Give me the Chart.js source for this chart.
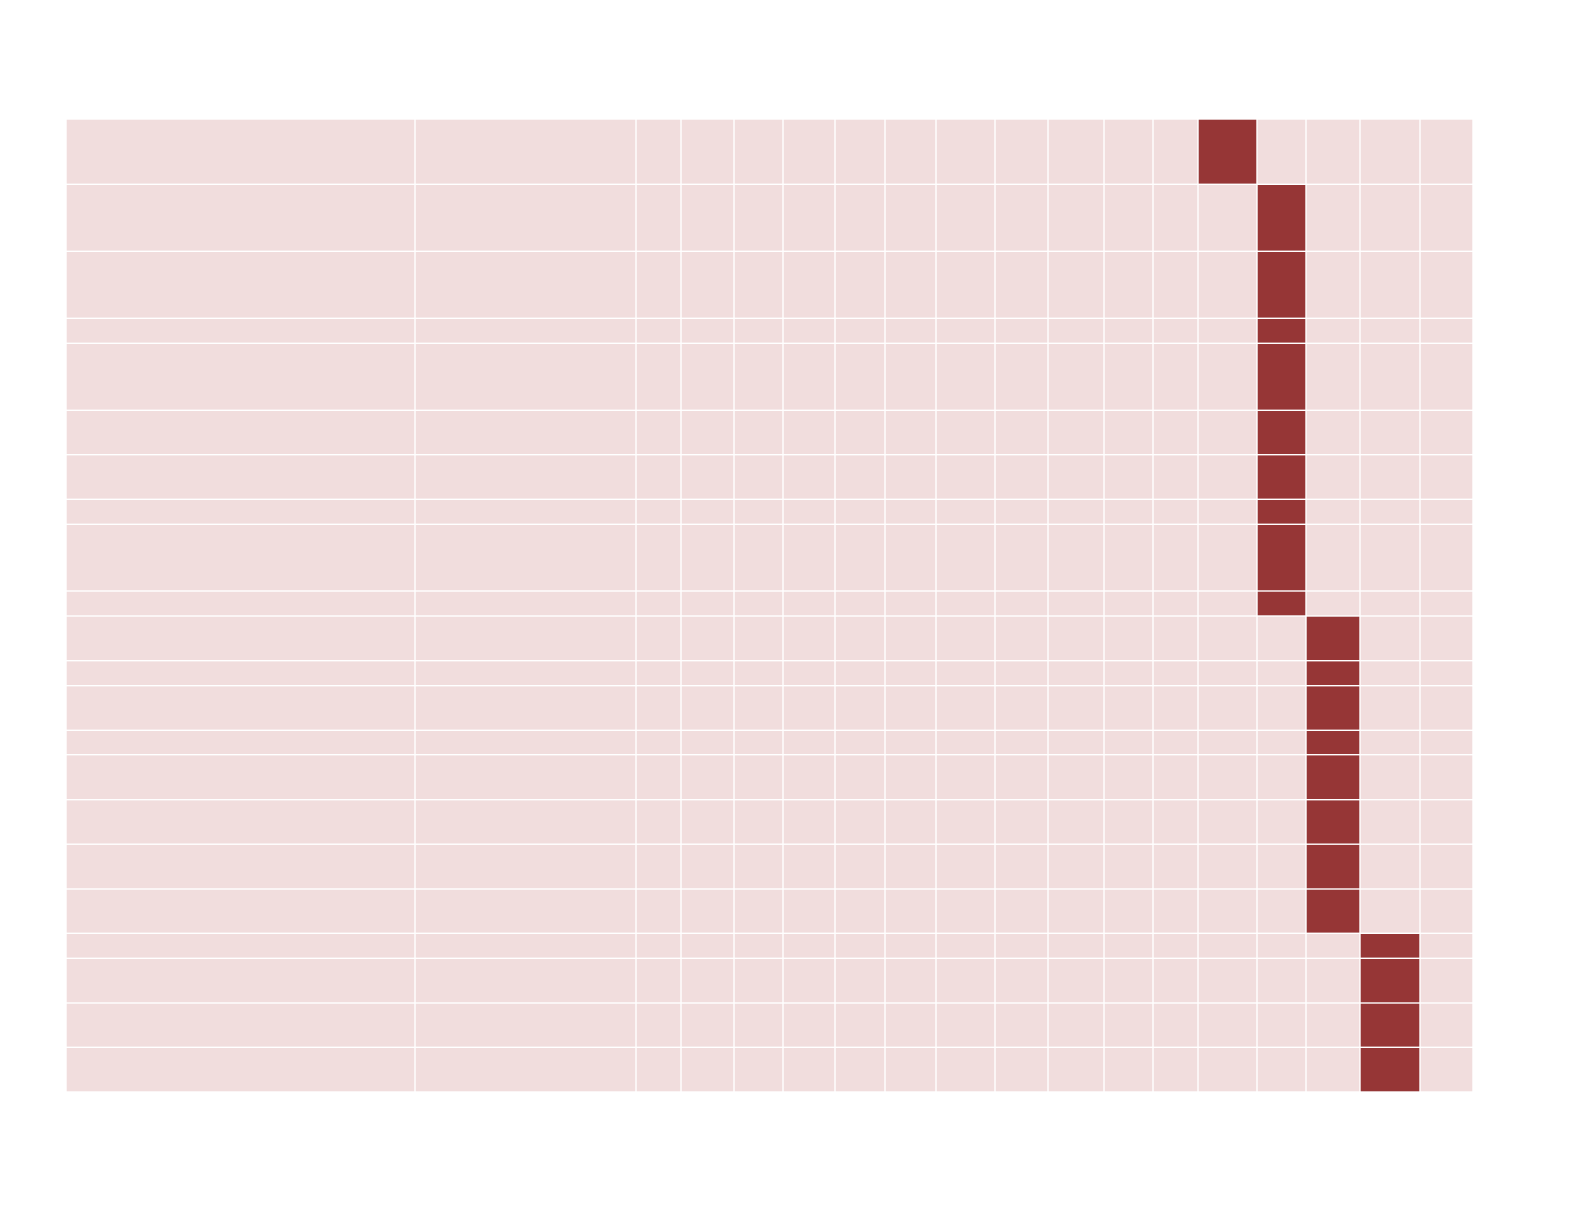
<!DOCTYPE html>
<html>
<head>
<meta charset="utf-8">
<script src="https://cdn.jsdelivr.net/npm/chart.js@4/dist/chart.umd.min.js"></script>
<style>
  html, body { margin: 0; padding: 0; background: #fff; }
  canvas { display: block; }
</style>
</head>
<body>
<canvas id="grid" width="1593" height="1230"></canvas>
<script>
// column widths (x units) and row heights (y units)
const colWidths = [349, 221, 45, 53, 49, 52, 50, 51, 59, 53, 56, 49, 45, 59, 49, 54, 60, 53];
const rowHeights = [65.3, 67, 67, 25, 67, 44.4, 44.6, 25, 66.7, 25, 44.7, 25, 44.6, 24.4, 45, 44.5, 44.8, 44.3, 25, 44.7, 44.3, 44.7];
// which column is the dark cell in each row
const hotColumn = [13, 14, 14, 14, 14, 14, 14, 14, 14, 14, 15, 15, 15, 15, 15, 15, 15, 15, 16, 16, 16, 16];

const baseColor = "rgb(241,221,221)";
const hotColor = "rgb(150,54,54)";

let cells = [];
let y0 = 0;
for (let r = 0; r < rowHeights.length; r++) {
   let x0 = 0;
   for (let c = 0; c < colWidths.length; c++) {
      let x1 = x0 + colWidths[c];
      let y1 = y0 + rowHeights[r];
      cells.push({
         x: (x0 + x1) / 2, y: (y0 + y1) / 2,
         x0: x0, x1: x1, y0: y0, y1: y1,
         hot: hotColumn[r] === c
      });
      x0 = x1;
   }
   y0 += rowHeights[r];
}
const totalX = colWidths.reduce((a, b) => a + b, 0);
const totalY = rowHeights.reduce((a, b) => a + b, 0);

// draws every cell as a rectangle using the chart's x/y scales
const cellPlugin = {
   id: 'cells',
   beforeDatasetsDraw(chart) {
      const ctx = chart.ctx;
      const xs = chart.scales.x, ys = chart.scales.y;
      const gap = 0.7;
      ctx.save();
      chart.data.datasets[0].data.forEach(function(d) {
         let left = xs.getPixelForValue(d.x0);
         let right = xs.getPixelForValue(d.x1);
         let top = ys.getPixelForValue(d.y0);
         let bottom = ys.getPixelForValue(d.y1);
         ctx.fillStyle = d.hot ? hotColor : baseColor;
         ctx.fillRect(left + gap, top + gap, right - left - 2 * gap, bottom - top - 2 * gap);
      });
      ctx.restore();
   }
};

new Chart(document.getElementById("grid"), {
   type: 'scatter',
   data: {
      datasets: [{
         data: cells,
         pointRadius: 0,
         pointHoverRadius: 0
      }]
   },
   options: {
      responsive: false,
      animation: false,
      layout: { padding: { left: 66, right: 120, top: 119, bottom: 138 } },
      plugins: { legend: { display: false }, tooltip: { enabled: false } },
      scales: {
         x: { type: 'linear', min: 0, max: totalX, display: false },
         y: { type: 'linear', min: 0, max: totalY, reverse: true, display: false }
      }
   },
   plugins: [cellPlugin]
});
</script>
</body>
</html>
